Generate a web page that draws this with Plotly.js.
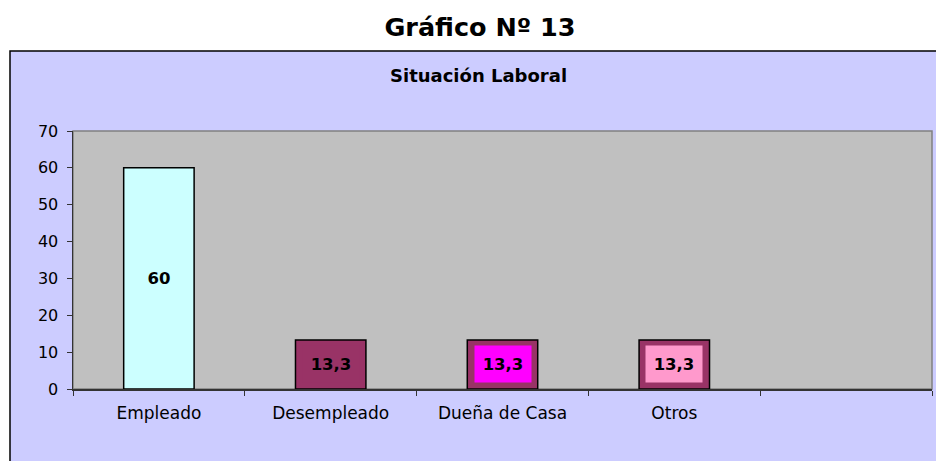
<!DOCTYPE html>
<html>
<head>
<meta charset="utf-8">
<script src="https://cdn.plot.ly/plotly-3.0.1.min.js"></script>
<style>
  html, body { margin: 0; padding: 0; background: #ffffff; }
  #chart { width: 936px; height: 461px; }
</style>
</head>
<body>
<div id="chart"></div>
<script>
// ---- data ----
const categories = ['Empleado', 'Desempleado', 'Dueña de Casa', 'Otros', ' '];
const values = [60, 13.3, 13.3, 13.3, null];
const barColors = ['#CCFFFF', '#993366', '#993366', '#993366', '#993366'];
const labelColors = ['#CCFFFF', '#993366', '#FF00FF', '#FF99CC', '#FFFFFF'];
const yTicks = [0, 10, 20, 30, 40, 50, 60, 70];
const mainTitle = 'Gráfico Nº 13';
const chartTitle = 'Situación Laboral';

const FONT = 'DejaVu Sans, Arial, sans-serif';

const trace = {
  type: 'bar',
  x: categories,
  y: values,
  width: 0.41,
  marker: { color: barColors, line: { color: '#000000', width: 1.5 } },
  hoverinfo: 'skip'
};

const annotations = [];
values.forEach((v, i) => {
  if (v === null) return;
  annotations.push({
    x: categories[i], y: v / 2, xref: 'x', yref: 'y',
    text: '<b>' + String(v).replace('.', ',') + '</b>',
    showarrow: false,
    bgcolor: labelColors[i],
    width: 52, height: 32, borderpad: 2,
    font: { family: FONT, size: 16.5, color: '#000000' }
  });
});
annotations.push({
  text: '<b>' + chartTitle + '</b>',
  xref: 'paper', yref: 'paper', x: 0.4726, y: (389 - 75.5) / 258,
  xanchor: 'center', yanchor: 'middle', showarrow: false,
  font: { family: FONT, size: 18, color: '#000000' }
});

const layout = {
  width: 936, height: 461,
  margin: { l: 73, r: 4, t: 131, b: 72, pad: 0 },
  paper_bgcolor: '#ffffff',
  plot_bgcolor: 'rgba(0,0,0,0)',
  showlegend: false,
  title: {
    text: '<b>' + mainTitle + '</b>',
    xref: 'container', yref: 'container',
    x: 480 / 936, y: 1 - 27 / 461, xanchor: 'center', yanchor: 'middle',
    font: { family: FONT, size: 25.5, color: '#000000' }
  },
  xaxis: {
    type: 'category',
    categoryorder: 'array', categoryarray: categories,
    range: [-0.5, 4.5],
    tickson: 'boundaries',
    ticks: 'outside', ticklen: 5, tickcolor: '#333333', tickwidth: 1,
    showline: true, linecolor: '#333333', linewidth: 1.5,
    showgrid: false, zeroline: false,
    ticklabelstandoff: 8,
    tickfont: { family: FONT, size: 17, color: '#000000' },
    fixedrange: true
  },
  yaxis: {
    range: [0, 70],
    tickvals: yTicks,
    ticks: 'outside', ticklen: 5, tickcolor: '#333333', tickwidth: 1,
    showline: true, linecolor: '#333333', linewidth: 1.5,
    showgrid: false, zeroline: false,
    ticklabelstandoff: 5,
    tickfont: { family: FONT, size: 16, color: '#000000' },
    fixedrange: true
  },
  shapes: [
    { type: 'rect', xref: 'paper', yref: 'paper', layer: 'below',
      x0: (10 - 73) / 859, x1: 1.2, y0: -0.6, y1: (389 - 51) / 258,
      fillcolor: '#CCCCFF', line: { color: '#000000', width: 1.5 } },
    { type: 'rect', xref: 'paper', yref: 'paper', layer: 'below',
      x0: 0, x1: 1, y0: 0, y1: 1,
      fillcolor: '#C0C0C0', line: { color: '#808080', width: 1.5 } }
  ],
  annotations: annotations,
  bargap: 0.59
};

Plotly.newPlot('chart', [trace], layout, { displayModeBar: false, staticPlot: true });
</script>
</body>
</html>
